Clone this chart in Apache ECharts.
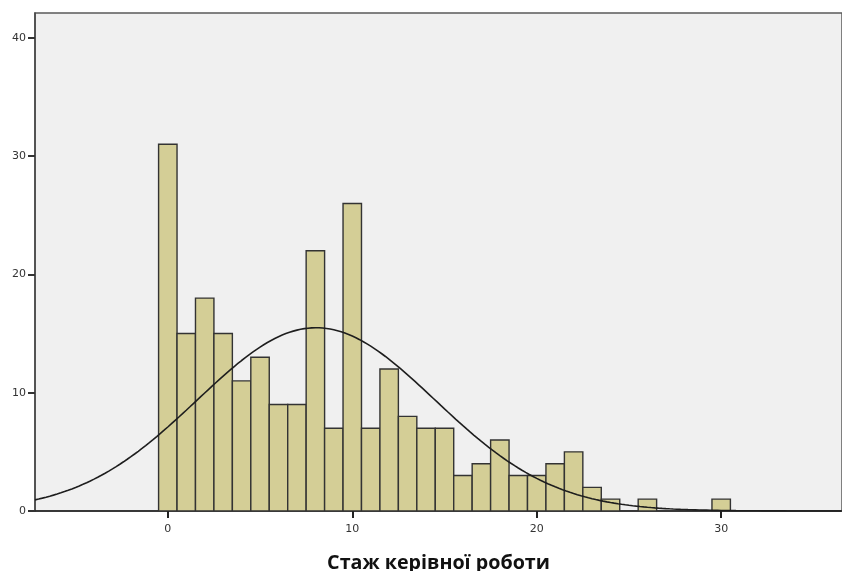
<!DOCTYPE html>
<html>
<head>
<meta charset="utf-8">
<script src="https://cdn.jsdelivr.net/npm/echarts@6/dist/echarts.min.js"></script>
<style>
  html, body { margin: 0; padding: 0; background: #ffffff; }
  #chart { width: 842px; height: 571px; }
</style>
</head>
<body>
<div id="chart"></div>
<script>
// Years of managerial experience (bin centre) and number of respondents
const years  = [0, 1, 2, 3, 4, 5, 6, 7, 8, 9, 10, 11, 12, 13, 14, 15, 16, 17, 18, 19, 20, 21, 22, 23, 24, 26, 30];
const counts = [31, 15, 18, 15, 11, 13, 9, 9, 22, 7, 26, 7, 12, 8, 7, 7, 3, 4, 6, 3, 3, 4, 5, 2, 1, 1, 1];
const xTicks = [0, 10, 20, 30];
const yTicks = [0, 10, 20, 30, 40];
const xTitle = 'Стаж керівної роботи';

// Visible value range of the axes
const X_MIN = -7.2, X_MAX = 36.55;
const Y_MIN = 0, Y_MAX = 42.1;

// Normal curve fitted to the histogram (mean and SD of the data)
const n = counts.reduce((a, b) => a + b, 0);
const mean = years.reduce((s, x, i) => s + x * counts[i], 0) / n;
const variance = years.reduce((s, x, i) => s + counts[i] * (x - mean) ** 2, 0) / (n - 1);
const sd = Math.sqrt(variance);
const binWidth = 1;
const curve = [];
for (let x = X_MIN; x <= X_MAX + 1e-9; x += 0.1) {
  const z = (x - mean) / sd;
  curve.push([x, n * binWidth / (sd * Math.sqrt(2 * Math.PI)) * Math.exp(-0.5 * z * z)]);
}

const bars = years.map((x, i) => [x, counts[i]]);

const chart = echarts.init(document.getElementById('chart'), null, { renderer: 'canvas' });
chart.setOption({
  animation: false,
  backgroundColor: '#ffffff',
  grid: {
    left: 35, right: 0, top: 13, bottom: 60,
    containLabel: false, outerBoundsMode: 'none',
    show: true, backgroundColor: '#f0f0f0', borderColor: '#5a5a5a', borderWidth: 1.5
  },
  xAxis: {
    type: 'value', min: X_MIN, max: X_MAX,
    name: xTitle, nameLocation: 'middle', nameGap: 42,
    nameTextStyle: { fontFamily: 'Open Sans', fontWeight: 'bold', fontSize: 19.7, color: '#111' },
    axisLine: { show: true, onZero: false, lineStyle: { color: '#222', width: 1.5 } },
    axisTick: { show: true, inside: false, length: 7, lineStyle: { color: '#222', width: 2 }, customValues: xTicks },
    axisLabel: { fontFamily: 'DejaVu Sans', fontSize: 11, color: '#333', margin: 13, customValues: xTicks },
    splitLine: { show: false }
  },
  yAxis: {
    type: 'value', min: Y_MIN, max: Y_MAX,
    axisLine: { show: true, onZero: false, lineStyle: { color: '#444', width: 1.5 } },
    axisTick: { show: true, inside: false, length: 7, lineStyle: { color: '#333', width: 2 }, customValues: yTicks },
    axisLabel: { fontFamily: 'DejaVu Sans', fontSize: 11, color: '#333', margin: 9, customValues: yTicks },
    splitLine: { show: false }
  },
  series: [
    {
      type: 'custom',
      data: bars,
      clip: true,
      renderItem: function (params, api) {
        const x = api.value(0), y = api.value(1);
        const p0 = api.coord([x - binWidth / 2, y]);
        const p1 = api.coord([x + binWidth / 2, 0]);
        return {
          type: 'rect',
          shape: { x: p0[0], y: p0[1], width: p1[0] - p0[0], height: p1[1] - p0[1] },
          style: { fill: '#d4ce96', stroke: '#333333', lineWidth: 1.4 }
        };
      },
      z: 2
    },
    {
      type: 'line',
      data: curve,
      showSymbol: false,
      smooth: false,
      lineStyle: { color: '#1e1e1e', width: 1.6 },
      z: 3
    }
  ]
});
</script>
</body>
</html>
